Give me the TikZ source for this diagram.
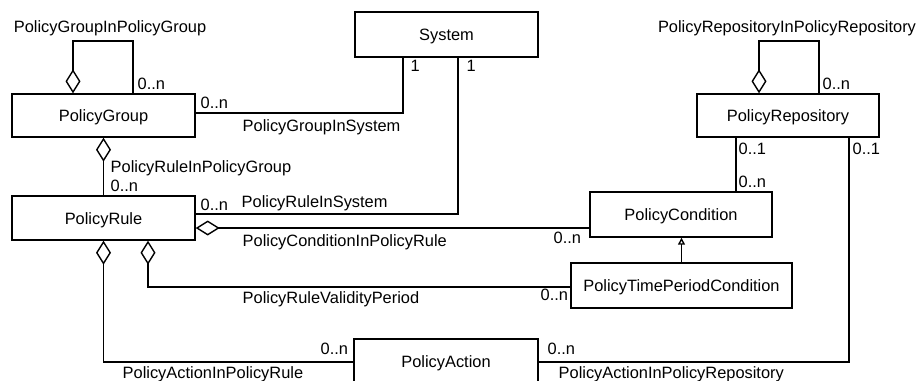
\documentclass[tikz,border=0pt]{standalone}
\usepackage{fontspec}
\setmainfont{Liberation Sans}
\usetikzlibrary{arrows.meta}
\begin{document}
\begin{tikzpicture}[x=1bp,y=-1bp,
  font=\fontsize{16.4bp}{20bp}\selectfont,
  line width=1.4bp,
  cls/.style={draw, inner sep=0pt, text height=12bp, text depth=0pt},
  lbl/.style={anchor=base west, inner sep=0pt},
  clbl/.style={anchor=base, inner sep=0pt},
  agg/.style={{Diamond[open,length=24bp,width=15bp]}-},
  gen/.style={-{Triangle[open,length=7bp,width=7bp]}}]
\useasboundingbox (0,0) rectangle (920,380);

% classes
\node[cls, minimum width=183bp, minimum height=45bp] (sys)  at (446.5,34.5)  {System};
\node[cls, minimum width=183bp, minimum height=43bp] (pg)   at (103.5,115.5) {PolicyGroup};
\node[cls, minimum width=182bp, minimum height=43bp] (prep) at (788,115.5)   {PolicyRepository};
\node[cls, minimum width=183bp, minimum height=44bp] (pr)   at (103.5,218)   {PolicyRule};
\node[cls, minimum width=182bp, minimum height=45bp] (pc)   at (681,214.5)   {PolicyCondition};
\node[cls, minimum width=221bp, minimum height=45bp] (ptpc) at (681.5,285.5) {PolicyTimePeriodCondition};
\node[cls, minimum width=184bp, minimum height=44bp] (pa)   at (446,361)     {PolicyAction};

% self-associations
\coordinate (pgl) at (73,41);
\coordinate (pgr) at (133,41);
\draw[agg] (pgl |- pg.north) -- (pgl) -- (pgr) -- (pgr |- pg.north);
\node[clbl] (lpgpg) at (110,32) {PolicyGroupInPolicyGroup};
\node[lbl] (mpgpg) at (137,89) {0..n};

\coordinate (rpl) at (759,41);
\coordinate (rpr) at (819,41);
\draw[agg] (rpl |- prep.north) -- (rpl) -- (rpr) -- (rpr |- prep.north);
\node[clbl] (lrprp) at (787,32) {PolicyRepositoryInPolicyRepository};
\node[lbl] (mrprp) at (822,89) {0..n};

% PolicyGroupInSystem
\draw ([yshift=2.5bp]pg.east) -| ([xshift=-43.5bp]sys.south);
\node[lbl] (mpgs1) at (200,108) {0..n};
\node[lbl] (mpgs2) at (410,71) {1};
\node[lbl] (lpgs)  at (242,131) {PolicyGroupInSystem};

% PolicyRuleInSystem
\draw ([yshift=4bp]pr.east) -| ([xshift=11.5bp]sys.south);
\node[lbl] (mprs1) at (200,210) {0..n};
\node[lbl] (mprs2) at (466,71) {1};
\node[lbl] (lprs)  at (241,207) {PolicyRuleInSystem};

% PolicyRuleInPolicyGroup
\draw[agg] (pg.south) -- (pr.north);
\node[lbl] (lprpg) at (110,172) {PolicyRuleInPolicyGroup};
\node[lbl] (mprpg) at (110,191) {0..n};

% PolicyConditionInPolicyRule
\draw[agg] ([yshift=-10bp]pr.east) -- ([yshift=-10bp]pr.east -| pc.west);
\node[lbl] (lpcpr) at (242,246) {PolicyConditionInPolicyRule};
\node[lbl] (mpcpr) at (553,243) {0..n};

% PolicyCondition in PolicyRepository
\draw ([xshift=-52bp]prep.south) -- ([xshift=-52bp]prep.south |- pc.north);
\node[lbl] (mpcr1) at (738,154) {0..1};
\node[lbl] (mpcr2) at (738,187) {0..n};

% generalisation
\draw[gen] (ptpc.north) -- (ptpc.north |- pc.south);

% PolicyRuleValidityPeriod
\draw[agg] ([xshift=44.5bp]pr.south) |- ([yshift=-1.5bp]ptpc.west);
\node[lbl] (lprvp) at (242,303) {PolicyRuleValidityPeriod};
\node[lbl] (mprvp) at (540,300) {0..n};

% PolicyActionInPolicyRule
\draw[agg] (pr.south) |- ([yshift=-1bp]pa.west);
\node[lbl] (lpapr) at (122,378) {PolicyActionInPolicyRule};
\node[lbl] (mpapr) at (320,354) {0..n};

% PolicyActionInPolicyRepository
\draw ([xshift=61bp]prep.south) |- ([yshift=-1bp]pa.east);
\node[lbl] (mpar1) at (852,154) {0..1};
\node[lbl] (mpar2) at (547,354) {0..n};
\node[lbl] (lpar)  at (558,378) {PolicyActionInPolicyRepository};
\end{tikzpicture}
\end{document}
